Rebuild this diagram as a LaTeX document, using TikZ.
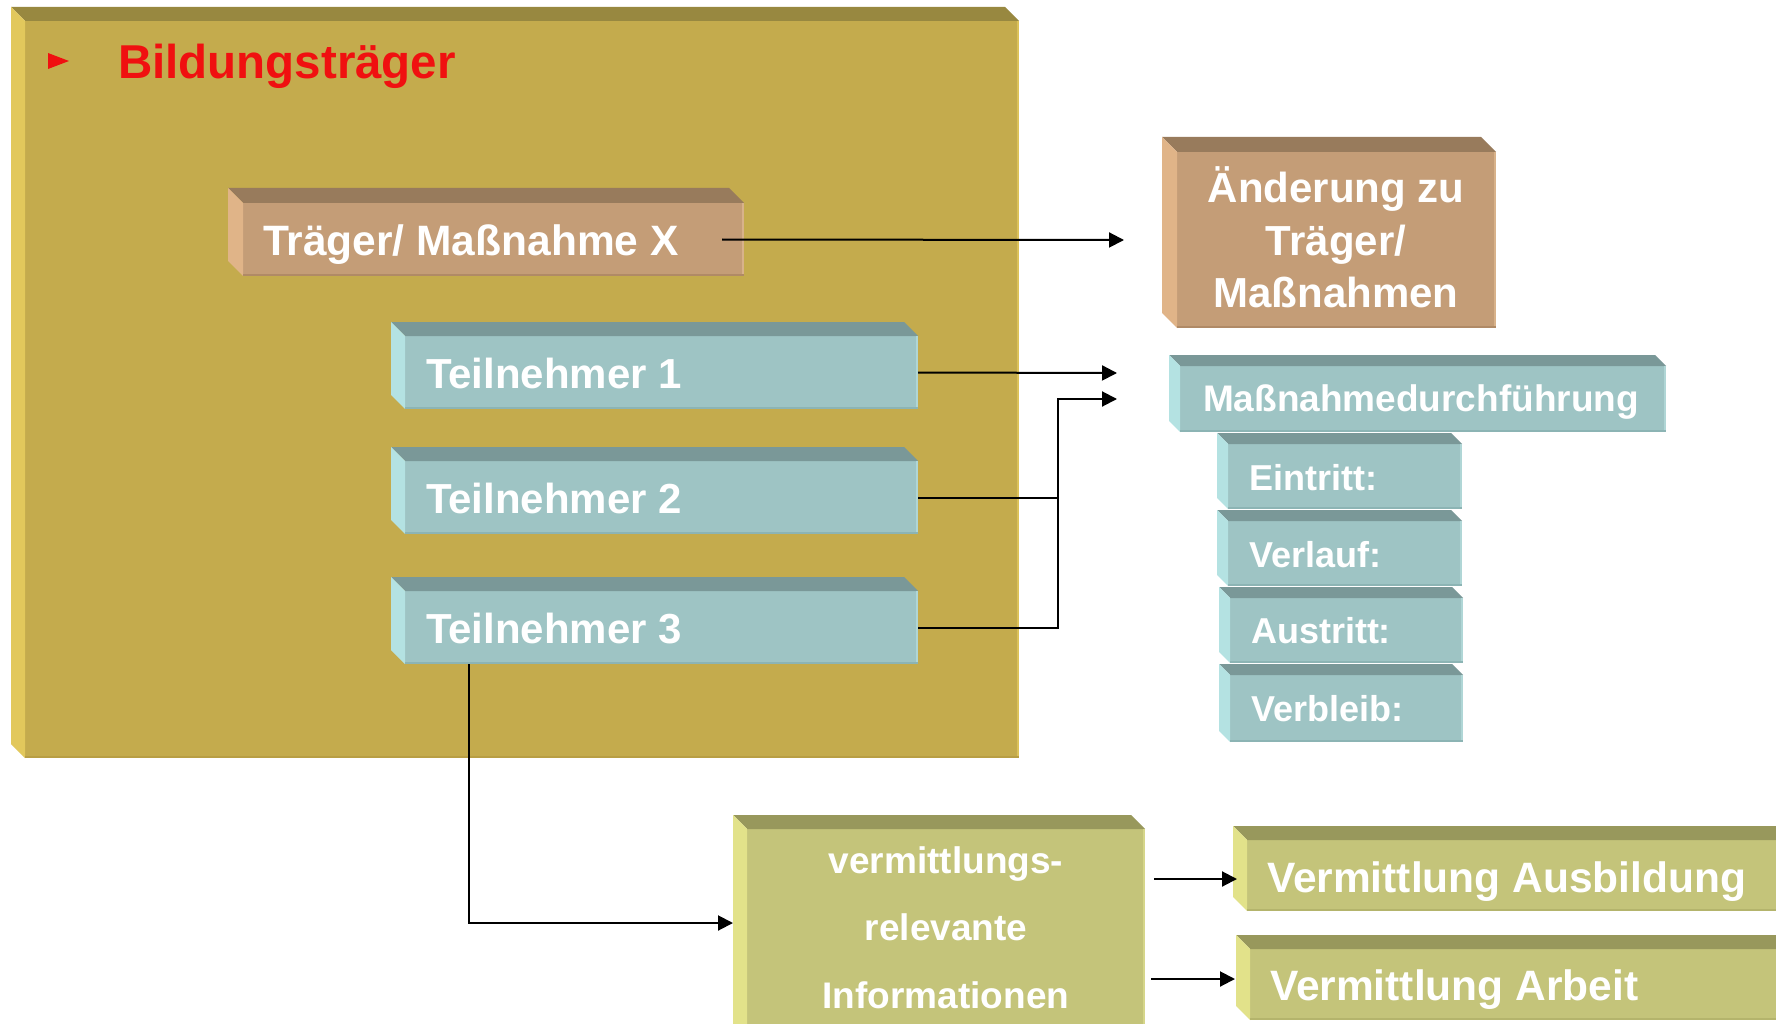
\documentclass[tikz,border=0pt]{standalone}
\usepackage{fontspec}
\setmainfont{Liberation Sans}
\usetikzlibrary{arrows.meta,calc,fit}
\definecolor{goldF}{HTML}{C4AB4D}
\definecolor{goldT}{HTML}{988840}
\definecolor{goldL}{HTML}{E2C85C}
\definecolor{goldB}{HTML}{B89E44}
\definecolor{goldR}{HTML}{DCC25A}
\definecolor{tanF}{HTML}{C49D77}
\definecolor{tanT}{HTML}{987B5C}
\definecolor{tanL}{HTML}{E0B488}
\definecolor{tanB}{HTML}{B08A66}
\definecolor{tanR}{HTML}{D8B28A}
\definecolor{tealF}{HTML}{9EC4C4}
\definecolor{tealT}{HTML}{7A9898}
\definecolor{tealL}{HTML}{B4E2E2}
\definecolor{tealB}{HTML}{8CB4B4}
\definecolor{tealR}{HTML}{B0D6D6}
\definecolor{oliveF}{HTML}{C4C47A}
\definecolor{oliveT}{HTML}{98985C}
\definecolor{oliveL}{HTML}{E2E28A}
\definecolor{oliveB}{HTML}{B4B46C}
\definecolor{oliveR}{HTML}{D6D68A}
\definecolor{titleRed}{HTML}{F01010}
\newcommand\bevelstrips[6]{%
  \fill[#3] (#1.north west) -- ++(-#2,-#2) -- ($(#1.north east)+(-#2,-#2)$) -- (#1.north east) -- cycle;
  \fill[#4] (#1.north west) -- ++(-#2,-#2) -- ($(#1.south west)+(-#2,-#2)$) -- (#1.south west) -- cycle;
  \draw[#5, line width=2pt] ([yshift=1pt]#1.south west) -- ([yshift=1pt]#1.south east);
  \draw[#6, line width=2pt] ([xshift=-1pt]#1.north east) -- ([xshift=-1pt,yshift=2pt]#1.south east);
}
\tikzset{
  face/.style={inner sep=0pt, outer sep=0pt, draw=none},
  lbl/.style={inner sep=0pt, outer sep=0pt, text=white, font=\bfseries\fontsize{#1}{#1}\selectfont},
  conn/.style={line width=2pt, black},
  arr/.style={conn, -{Triangle[length=15pt,width=15pt]}}
}
\begin{document}
\begin{tikzpicture}[x=1pt, y=-1pt]
\useasboundingbox (0,0) rectangle (1776,1024);
\clip (0,0) rectangle (1776,1024);
\fill[white] (0,0) rectangle (1776,1024);

% big container
\node[face, fill=goldF, fit={(25,21)(1019,758)}] (bt) {};
\bevelstrips{bt}{14}{goldT}{goldL}{goldB}{goldR}
\fill[titleRed] (48,53) -- (48,69) -- (69,61) -- cycle;
\node[lbl=47.5, text=titleRed, anchor=base west] (bttext) at (118,79) {Bildungsträger};

% Traeger / Massnahme X
\node[face, fill=tanF, fit={(243,203)(744,276)}] (tr) {};
\bevelstrips{tr}{15}{tanT}{tanL}{tanB}{tanR}
\node[lbl=42.5, anchor=base west] (trtext) at (263,255) {Träger/ Maßnahme X};

% Teilnehmer
\node[face, fill=tealF, fit={(405,336)(918,409)}] (t1) {};
\bevelstrips{t1}{14}{tealT}{tealL}{tealB}{tealR}
\node[lbl=42, anchor=base west] (t1text) at (426,388) {Teilnehmer 1};
\node[face, fill=tealF, fit={(405,461)(918,534)}] (t2) {};
\bevelstrips{t2}{14}{tealT}{tealL}{tealB}{tealR}
\node[lbl=42, anchor=base west] (t2text) at (426,513) {Teilnehmer 2};
\node[face, fill=tealF, fit={(405,591)(918,664)}] (t3) {};
\bevelstrips{t3}{14}{tealT}{tealL}{tealB}{tealR}
\node[lbl=42, anchor=base west] (t3text) at (426,643) {Teilnehmer 3};

% Aenderung
\node[face, fill=tanF, fit={(1177,152)(1496,328)}] (an) {};
\bevelstrips{an}{15}{tanT}{tanL}{tanB}{tanR}
\node[lbl=42, anchor=base] (an1) at (1336,203) {Änderung zu};
\node[lbl=42, anchor=base] (an2) at (1336,255) {Träger/};
\node[lbl=42, anchor=base] (an3) at (1336,307) {Maßnahmen};

% Massnahmedurchfuehrung
\node[face, fill=tealF, fit={(1180,366)(1666,432)}] (md) {};
\bevelstrips{md}{11}{tealT}{tealL}{tealB}{tealR}
\node[lbl=37, anchor=base] (mdtext) at (1421,411) {Maßnahmedurchführung};

\node[face, fill=tealF, fit={(1228,444)(1462,509)}] (ein) {};
\bevelstrips{ein}{11}{tealT}{tealL}{tealB}{tealR}
\node[lbl=36, anchor=base west] (eintext) at (1249,490) {Eintritt:};
\node[face, fill=tealF, fit={(1228,521)(1462,586)}] (ver) {};
\bevelstrips{ver}{11}{tealT}{tealL}{tealB}{tealR}
\node[lbl=36, anchor=base west] (vertext) at (1249,567) {Verlauf:};
\node[face, fill=tealF, fit={(1230,598)(1463,663)}] (aus) {};
\bevelstrips{aus}{11}{tealT}{tealL}{tealB}{tealR}
\node[lbl=36, anchor=base west] (austext) at (1251,643) {Austritt:};
\node[face, fill=tealF, fit={(1230,675)(1463,742)}] (vbl) {};
\bevelstrips{vbl}{11}{tealT}{tealL}{tealB}{tealR}
\node[lbl=36, anchor=base west] (vbltext) at (1251,721) {Verbleib:};

% vermittlungsrelevante Informationen
\node[face, fill=oliveF, fit={(747,829)(1145,1040)}] (vri) {};
\bevelstrips{vri}{14}{oliveT}{oliveL}{oliveB}{oliveR}
\node[lbl=37, anchor=base] (vri1) at (946,873) {vermittlungs-};
\node[lbl=37, anchor=base] (vri2) at (946,940) {relevante};
\node[lbl=37, anchor=base] (vri3) at (946,1008) {Informationen};

% Vermittlung boxes
\node[face, fill=oliveF, fit={(1247,840)(1790,911)}] (va) {};
\bevelstrips{va}{14}{oliveT}{oliveL}{oliveB}{oliveR}
\node[lbl=42.5, anchor=base west] (vatext) at (1267,892) {Vermittlung Ausbildung};
\node[face, fill=oliveF, fit={(1250,949)(1790,1020)}] (vw) {};
\bevelstrips{vw}{14}{oliveT}{oliveL}{oliveB}{oliveR}
\node[lbl=42.5, anchor=base west] (vwtext) at (1270,1000) {Vermittlung Arbeit};

% connectors
\coordinate (trEnd) at (1124,240);
\coordinate (t1End) at (1117,373);
\coordinate (t23End) at (1117,399);
\coordinate (jx) at (1058,399);
\coordinate (t3End) at (733,923);
\coordinate (vaStart) at (1154,879);
\coordinate (vaEnd) at (1237,879);
\coordinate (vwStart) at (1151,979);
\coordinate (vwEnd) at (1235,979);

\draw[arr] ([xshift=-22pt]tr.east) -- (trEnd);
\draw[arr] (t1.east) -- (t1End);
\draw[conn] (t2.east) -- (t2.east -| jx);
\draw[arr] (t3.east) -- (t3.east -| jx) -- (jx) -- (t23End);
\draw[arr] (t3.south -| 469,0) -- (469,923) -- (t3End);
\draw[arr] (vaStart) -- (vaEnd);
\draw[arr] (vwStart) -- (vwEnd);
\end{tikzpicture}
\end{document}
